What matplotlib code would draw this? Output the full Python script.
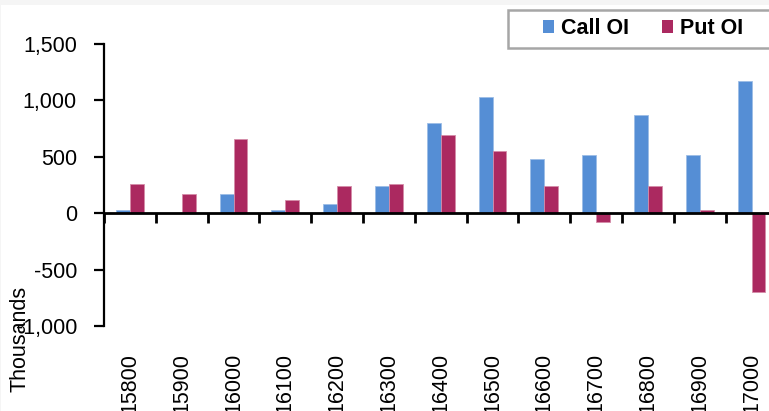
import matplotlib
matplotlib.use("Agg")
import matplotlib.pyplot as plt
from matplotlib.patches import Rectangle
from matplotlib.transforms import blended_transform_factory, offset_copy
import numpy as np

strikes = ["15800", "15900", "16000", "16100", "16200", "16300", "16400",
           "16500", "16600", "16700", "16800", "16900", "17000"]
call_oi = [25, 0, 170, 25, 80, 237, 801, 1028, 482, 518, 872, 518, 1174]
put_oi = [254, 170, 660, 115, 237, 254, 695, 553, 237, -80, 237, 24, -700]
y_ticks = [-1000, -500, 0, 500, 1000, 1500]

plt.rcParams["font.family"] = ["Liberation Sans", "DejaVu Sans"]
FS = 15.5

W, H = 769, 411
fig = plt.figure(figsize=(W / 100, H / 100), dpi=100)
fig.patch.set_facecolor("#f5f5f5")
fig.add_artist(Rectangle((1 / W, 0), 1, 1 - 5 / H, transform=fig.transFigure,
                         facecolor="white", edgecolor="none", zorder=0))

ax = fig.add_axes([104 / W, (H - 326) / H, 673.4 / W, (326 - 43.7) / H])
ax.set_facecolor("none")

x = np.arange(len(strikes))
bw = 0.27
blue = "#558ed5"
red = "#ab2960"
ax.bar(x - bw / 2, call_oi, bw, color=blue, edgecolor="#9dbde6", linewidth=0.6,
       label="Call OI", zorder=2)
ax.bar(x + bw / 2, put_oi, bw, color=red, edgecolor="#d48ca9", linewidth=0.6,
       label="Put OI", zorder=2)

ax.set_xlim(-0.5, len(strikes) - 0.5)
ax.set_ylim(-1000, 1500)

for s in ["top", "right"]:
    ax.spines[s].set_visible(False)
ax.spines["bottom"].set_position(("data", 0))
ax.spines["bottom"].set_linewidth(2)
ax.spines["bottom"].set_zorder(3)
ax.spines["left"].set_linewidth(1.6)

ax.set_xticks(np.arange(len(strikes) + 1) - 0.5)
ax.set_xticklabels([])
ax.tick_params(axis="x", direction="out", length=7, width=2, color="black")

ax.set_yticks(y_ticks)
ax.set_yticklabels([f"{v:,}" for v in y_ticks], fontsize=FS)
ax.tick_params(axis="y", direction="out", length=7, width=1.6, pad=12.5)

# strike labels sit below the plot area, not on the zero line
trans = offset_copy(blended_transform_factory(ax.transData, ax.transAxes),
                    fig=fig, x=0, y=-27, units="dots")
for xi, s in zip(x, strikes):
    ax.text(xi, 0, s, transform=trans, rotation=90, ha="center", va="top",
            fontsize=FS)

fig.text(20 / W, 1 - 338.5 / H, "Thousands", rotation=90, ha="center",
         va="center", fontsize=FS)

# legend frame
fig.add_artist(Rectangle((508 / W, 1 - 47.7 / H), 280 / W, 37.7 / H,
                         transform=fig.transFigure, facecolor="white",
                         edgecolor="#a6a6a6", linewidth=1.8, zorder=5))
leg = fig.legend(loc="center left", bbox_to_anchor=(543 / W, 1 - 28.5 / H),
                 ncol=2, frameon=False, handlelength=0.52, handleheight=0.52,
                 handletextpad=0.3, columnspacing=1.55, borderpad=0,
                 borderaxespad=0, prop={"weight": "bold", "size": FS})
leg.set_zorder(6)
for h in leg.legend_handles:
    h.set_edgecolor("none")

fig.savefig("out.png", dpi=100, facecolor=fig.get_facecolor())
